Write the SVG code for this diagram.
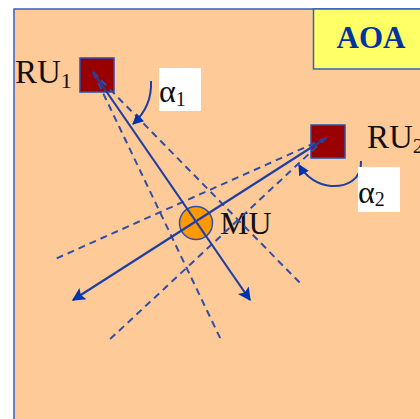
<svg xmlns="http://www.w3.org/2000/svg" width="420" height="419" viewBox="0 0 420 419">
  <style>
    .unit { fill: #990000; stroke: #2a4fb0; stroke-width: 1.5; }
    .label { font-family: "Liberation Serif", "Times New Roman", serif; fill: #111; }
    .ray { stroke: #1f3fa3; stroke-width: 2.2; fill: none; }
    .bound { stroke: #2f4ea8; stroke-width: 2; fill: none; stroke-dasharray: 7 5; }
    .angle { stroke: #1f3fa3; stroke-width: 2; fill: none; }
    .tag { fill: #ffffff; }
  </style>
  <defs>
    <marker id="head" viewBox="0 0 10 10" refX="9" refY="5" markerWidth="7.5" markerHeight="6" orient="auto" markerUnits="strokeWidth">
      <path d="M0,0 L10,5 L0,10 L2,5 z" fill="#0033aa"/>
    </marker>
    <marker id="headSmall" viewBox="0 0 10 10" refX="9" refY="5" markerWidth="6" markerHeight="5.5" orient="auto" markerUnits="strokeWidth">
      <path d="M0,0 L10,5 L0,10 z" fill="#0033aa"/>
    </marker>
  </defs>

  <!-- panel -->
  <rect x="0" y="0" width="420" height="419" fill="#ffffff"/>
  <rect x="14" y="9" width="420" height="420" fill="#FECB98" stroke="#3560c0" stroke-width="1.5"/>

  <!-- title box -->
  <g id="title">
    <rect x="313.5" y="9" width="120" height="60" fill="#FFFF66" stroke="#3560c0" stroke-width="1.5"/>
    <text x="371" y="47.5" text-anchor="middle" font-family="Liberation Serif, 'Times New Roman', serif" font-weight="bold" font-size="31" fill="#0033a0">AOA</text>
  </g>

  <!-- reference units -->
  <g id="ru1">
    <rect class="unit" x="80" y="58" width="34" height="34"/>
    <text class="label" x="15" y="83" font-size="33">RU<tspan font-size="22" dy="5">1</tspan></text>
  </g>
  <g id="ru2">
    <rect class="unit" x="311" y="125" width="34" height="33"/>
    <text class="label" x="367" y="148" font-size="33">RU<tspan font-size="22" dy="5">2</tspan></text>
  </g>

  <!-- mobile unit -->
  <g id="mu">
    <circle cx="196" cy="223" r="16.5" fill="#FF9900" stroke="#2a4fb0" stroke-width="1.5"/>
    <text class="label" x="220" y="234" font-size="32">MU</text>
  </g>

  <!-- bearing lines and uncertainty bounds -->
  <g id="connectors">
    <line class="bound" x1="93" y1="72" x2="222" y2="342"/>
    <line class="bound" x1="93" y1="72" x2="302" y2="285"/>
    <line class="bound" x1="326" y1="138" x2="53" y2="260"/>
    <line class="bound" x1="326" y1="138" x2="107" y2="342"/>
    <line class="ray" x1="93" y1="72" x2="250" y2="300" marker-end="url(#head)"/>
    <line class="ray" x1="326" y1="138" x2="73" y2="300" marker-end="url(#head)"/>
    <path class="angle" d="M151,81 C152,100 145,113 133,124" marker-end="url(#headSmall)"/>
    <path class="angle" d="M361,161 C362,180 346,187 331,186 C318,185 306,177 299,165" marker-end="url(#headSmall)"/>
  </g>

  <!-- angle labels -->
  <g id="alpha1">
    <rect class="tag" x="159" y="68" width="42" height="43"/>
    <text class="label" x="159" y="102" font-size="32">α<tspan font-size="20" dy="4">1</tspan></text>
  </g>
  <g id="alpha2">
    <rect class="tag" x="358" y="167" width="42" height="45"/>
    <text class="label" x="358" y="203" font-size="32">α<tspan font-size="20" dy="3">2</tspan></text>
  </g>
</svg>
